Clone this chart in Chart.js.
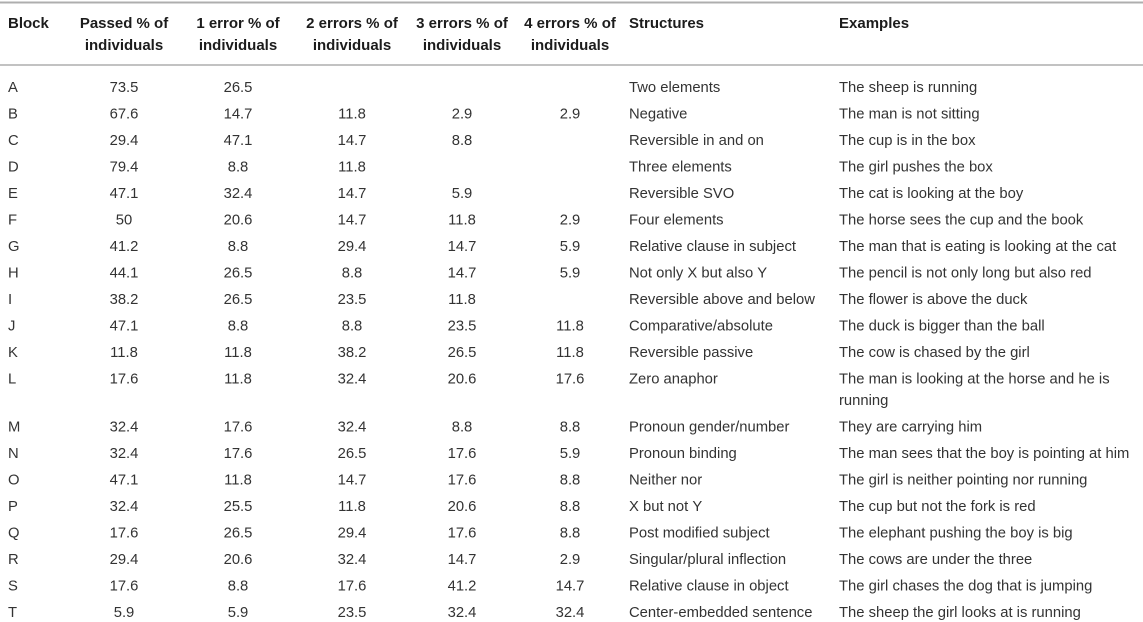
<!DOCTYPE html>
<html>
<head>
<meta charset="utf-8">
<script src="https://cdn.jsdelivr.net/npm/chart.js@4.4.1/dist/chart.umd.min.js"></script>
<style>
	html, body { margin: 0; padding: 0; background: #fff; }
	#wrap { width: 1143px; height: 622px; position: relative; }
</style>
</head>
<body>
<div id="wrap"><canvas id="blockTable"></canvas></div>
<script>
// Данные таблицы
const blocks = ["A","B","C","D","E","F","G","H","I","J","K","L","M","N","O","P","Q","R","S","T"];
const passed = [73.5, 67.6, 29.4, 79.4, 47.1, 50, 41.2, 44.1, 38.2, 47.1, 11.8, 17.6, 32.4, 32.4, 47.1, 32.4, 17.6, 29.4, 17.6, 5.9];
const error1 = [26.5, 14.7, 47.1, 8.8, 32.4, 20.6, 8.8, 26.5, 26.5, 8.8, 11.8, 11.8, 17.6, 17.6, 11.8, 25.5, 26.5, 20.6, 8.8, 5.9];
const error2 = [null, 11.8, 14.7, 11.8, 14.7, 14.7, 29.4, 8.8, 23.5, 8.8, 38.2, 32.4, 32.4, 26.5, 14.7, 11.8, 29.4, 32.4, 17.6, 23.5];
const error3 = [null, 2.9, 8.8, null, 5.9, 11.8, 14.7, 14.7, 11.8, 23.5, 26.5, 20.6, 8.8, 17.6, 17.6, 20.6, 17.6, 14.7, 41.2, 32.4];
const error4 = [null, 2.9, null, null, null, 2.9, 5.9, 5.9, null, 11.8, 11.8, 17.6, 8.8, 5.9, 8.8, 8.8, 8.8, 2.9, 14.7, 32.4];
const structures = [
	"Two elements", "Negative", "Reversible in and on", "Three elements", "Reversible SVO",
	"Four elements", "Relative clause in subject", "Not only X but also Y", "Reversible above and below",
	"Comparative/absolute", "Reversible passive", "Zero anaphor", "Pronoun gender/number",
	"Pronoun binding", "Neither nor", "X but not Y", "Post modified subject",
	"Singular/plural inflection", "Relative clause in object", "Center-embedded sentence",
];
const examples = [
	"The sheep is running", "The man is not sitting", "The cup is in the box", "The girl pushes the box",
	"The cat is looking at the boy", "The horse sees the cup and the book",
	"The man that is eating is looking at the cat", "The pencil is not only long but also red",
	"The flower is above the duck", "The duck is bigger than the ball", "The cow is chased by the girl",
	"The man is looking at the horse and he is running", "They are carrying him",
	"The man sees that the boy is pointing at him", "The girl is neither pointing nor running",
	"The cup but not the fork is red", "The elephant pushing the boy is big",
	"The cows are under the three", "The girl chases the dog that is jumping",
	"The sheep the girl looks at is running",
];
const headers = [
	["Block"],
	["Passed % of", "individuals"],
	["1 error % of", "individuals"],
	["2 errors % of", "individuals"],
	["3 errors % of", "individuals"],
	["4 errors % of", "individuals"],
	["Structures"],
	["Examples"],
];

// Разметка
const colX = [8, 124, 238, 352, 462, 570, 629, 839];
const colAlign = ["left", "center", "center", "center", "center", "center", "left", "left"];
const rowStep = 26.5;      // px на строку
const firstRowPx = 88;
const wrapLinePx = 21.5;
const headTopPx = 23;
const headLinePx = 22;
const ruleTopPx = 2.5;
const ruleHeadPx = 65;
const exampleMax = 300;
const bodyFont = "14.8px 'Liberation Sans', Arial, sans-serif";
const headFont = "bold 15px 'Liberation Sans', Arial, sans-serif";

// перенос длинных строк
const measure = document.createElement("canvas").getContext("2d");
measure.font = bodyFont;
function wrap(text, max) {
	const words = text.split(" ");
	const lines = [];
	let cur = "";
	words.forEach((w) => {
		const test = cur ? cur + " " + w : w;
		if (cur && measure.measureText(test).width > max) {
			lines.push(cur);
			cur = w;
		} else {
			cur = test;
		}
	});
	lines.push(cur);
	return lines;
}
const exampleLines = examples.map((t) => wrap(t, exampleMax));

// позиция строки в "строках" с учётом переносов
const rowPos = [];
let extra = 0;
blocks.forEach((b, i) => {
	rowPos.push(i + extra);
	extra += (exampleLines[i].length - 1) * (wrapLinePx / rowStep);
});
const yMin = -firstRowPx / rowStep;
const yMax = yMin + 622 / rowStep;
const toRow = (px) => (px - firstRowPx) / rowStep;

const fmt = (v) => (v === null ? null : [String(v)]);
const columns = [
	blocks.map((b) => [b]),
	passed.map(fmt),
	error1.map(fmt),
	error2.map(fmt),
	error3.map(fmt),
	error4.map(fmt),
	structures.map((s) => [s]),
	exampleLines,
];

const datasets = columns.map((col, c) => ({
	label: headers[c].join(" "),
	data: col
		.map((lines, i) => (lines ? { x: colX[c], y: rowPos[i], lines: lines } : null))
		.filter((p) => p),
	align: colAlign[c],
	font: bodyFont,
	color: "#333333",
	lineGap: wrapLinePx,
	pointRadius: 0,
}));
datasets.push({
	label: "header",
	data: headers.map((h, c) => ({ x: colX[c], y: toRow(headTopPx + 1), lines: h, align: colAlign[c] })),
	font: headFont,
	color: "#1c1c1c",
	lineGap: headLinePx,
	pointRadius: 0,
});

const tableText = {
	id: "tableText",
	afterDatasetsDraw(chart) {
		const ctx = chart.ctx;
		const y = chart.scales.y;
		const area = chart.chartArea;
		ctx.save();
		// линейки
		ctx.strokeStyle = "#aeaeae";
		ctx.lineWidth = 2;
		ctx.beginPath();
		ctx.moveTo(area.left, y.getPixelForValue(toRow(ruleTopPx)));
		ctx.lineTo(area.right, y.getPixelForValue(toRow(ruleTopPx)));
		ctx.stroke();
		ctx.lineWidth = 1.5;
		ctx.beginPath();
		ctx.moveTo(area.left, y.getPixelForValue(toRow(ruleHeadPx)));
		ctx.lineTo(area.right, y.getPixelForValue(toRow(ruleHeadPx)));
		ctx.stroke();
		// текст
		ctx.textBaseline = "middle";
		chart.data.datasets.forEach((ds, d) => {
			const meta = chart.getDatasetMeta(d);
			ctx.font = ds.font;
			ctx.fillStyle = ds.color;
			meta.data.forEach((el, i) => {
				const p = ds.data[i];
				ctx.textAlign = p.align || ds.align;
				p.lines.forEach((line, k) => {
					ctx.fillText(line, el.x, el.y + k * ds.lineGap);
				});
			});
		});
		ctx.restore();
	},
};

new Chart(document.getElementById("blockTable"), {
	type: "scatter",
	data: { datasets: datasets },
	options: {
		maintainAspectRatio: false,
		animation: false,
		devicePixelRatio: 2,
		layout: { padding: 0 },
		events: [],
		clip: false,
		plugins: {
			legend: { display: false },
			tooltip: { enabled: false },
		},
		scales: {
			x: { type: "linear", display: false, min: 0, max: 1143 },
			y: { type: "linear", display: false, reverse: true, min: yMin, max: yMax },
		},
	},
	plugins: [tableText],
});
</script>
</body>
</html>
